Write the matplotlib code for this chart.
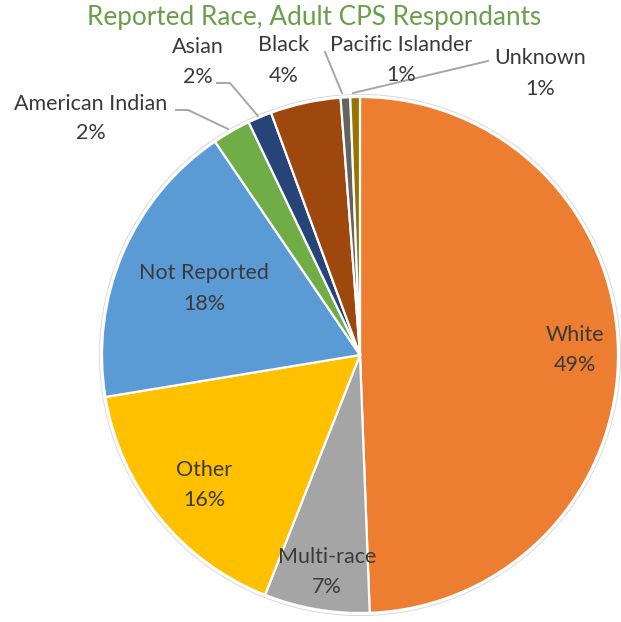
import matplotlib
matplotlib.use("Agg")
import matplotlib.pyplot as plt
from matplotlib.patches import Circle

# Race categories, clockwise from 12 o'clock
races = ["White", "Multi-race", "Other", "Not Reported", "American Indian",
         "Asian", "Black", "Pacific Islander", "Unknown"]
shares = [49.4, 6.6, 16.4, 18.1, 2.4, 1.5, 4.4, 0.6, 0.6]
colors = ["#ED7D31", "#A5A5A5", "#FFC000", "#5B9BD5", "#70AD47",
          "#264478", "#9E480E", "#636363", "#997300"]

W, H = 621, 622
plt.rcParams["font.family"] = ["Lato", "DejaVu Sans"]

fig = plt.figure(figsize=(W / 100, H / 100), dpi=100)


def px(x, y):
    """pixel position -> figure fraction"""
    return x / W, 1 - y / H


# pie: centre (360, 355), radius 258 px; axes span +-1.03 radii
R, CX, CY, M = 258, 360, 355, 1.03
side = 2 * R * M
ax = fig.add_axes([(CX - R * M) / W, (H - CY - R * M) / H, side / W, side / H])

wedges, _ = ax.pie(shares, colors=colors, startangle=90, counterclock=False,
                   radius=1.0, center=(0, 0), frame=True,
                   wedgeprops=dict(edgecolor="white", linewidth=1.6))
ax.set_xlim(-M, M)
ax.set_ylim(-M, M)
ax.axis("off")
ax.add_patch(Circle((0, 0), 1.01, fill=False, ec="#d4d4d4", lw=0.6,
                    zorder=0))

txt = "#3a3a3a"
fs = 15.5


def label(name, val, x, y1, y2):
    fig.text(*px(x, y1), name, ha="center", va="center", fontsize=fs,
             color=txt)
    fig.text(*px(x, y2), f"{val:.0f}%", ha="center", va="center",
             fontsize=fs, color=txt)


# labels inside the larger slices
label(races[0], shares[0], 575, 335, 365)
label(races[1], shares[1], 327, 557, 587)
label(races[2], shares[2], 204, 470, 500)
label(races[3], shares[3], 204, 273, 304)

# outside labels for the thin slices
label(races[4], shares[4], 91, 104, 133)
label(races[5], shares[5], 198, 47, 77)
label(races[6], shares[6], 284, 45, 76)
label(races[7], shares[7], 401, 45, 75)
label(races[8], shares[8], 540, 58, 89)

# leader lines
leaders = [
    [(176, 110), (188, 110), (228, 129)],
    [(217, 83), (230, 83), (258, 116)],
    [(325, 52), (342, 93)],
    [(353, 93), (488, 61)],
]
for pts in leaders:
    xs, ys = zip(*[px(x, y) for x, y in pts])
    fig.add_artist(plt.Line2D(xs, ys, transform=fig.transFigure,
                              color="#A6A6A6", lw=1.4))

fig.text(*px(314, 18), "Reported Race, Adult CPS Respondants", ha="center",
         va="center", fontsize=18.8, color="#6A9F4A")

fig.savefig("out.png", dpi=100, facecolor="white")
